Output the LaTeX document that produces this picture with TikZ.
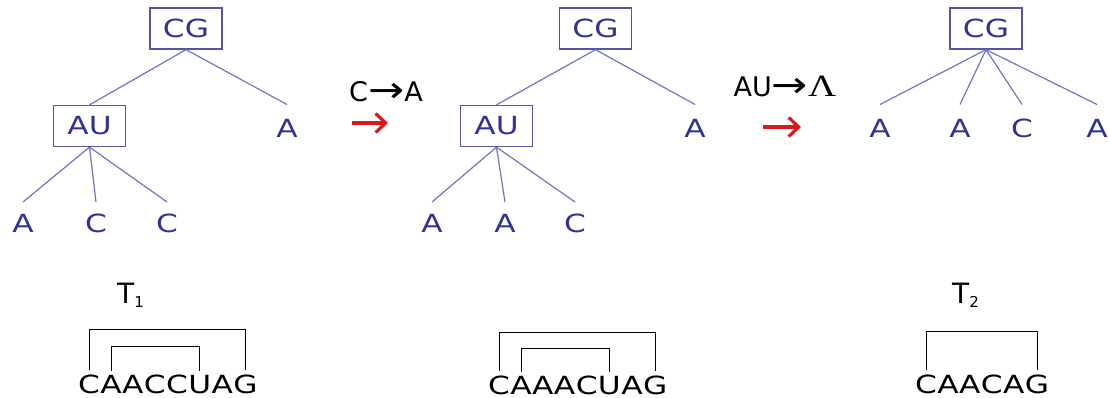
\documentclass[tikz,border=0pt]{standalone}
\usepackage{fontspec}
\setmainfont{DejaVu Sans}[FakeStretch=1.25]
\newfontfamily\lblfont{DejaVu Sans}
\newfontfamily\lamfont{Liberation Serif}[FakeStretch=1.25]
\usepackage{graphicx}
\usetikzlibrary{arrows.meta}
\definecolor{treeblue}{RGB}{50,50,150}
\definecolor{boxblue}{RGB}{85,85,160}
\definecolor{edgeblue}{RGB}{115,115,195}
\definecolor{arrred}{RGB}{215,25,25}
\newcommand{\lbarrow}{\raisebox{-0.5pt}{\scalebox{1.6}[1.35]{→}}}
\begin{document}
\begin{tikzpicture}[x=1pt,y=-1pt,
  treetext/.style={font=\fontsize{25}{27}\selectfont, text=treeblue, inner sep=0pt, text height=18pt, text depth=0pt},
  pairbox/.style={treetext, draw=boxblue, line width=1.3pt, minimum width=72pt, minimum height=41pt},
  leaf/.style={treetext, outer ysep=15pt},
  edge/.style={draw=edgeblue, line width=1.2pt},
  seq/.style={font=\fontsize{25}{27}\selectfont, text=black, inner sep=0pt, anchor=base west},
  bracket/.style={draw=black, line width=1.1pt},
  lbl/.style={font=\lblfont\fontsize{27}{29}\selectfont, text=black, inner sep=0pt},
  redarrow/.style={draw=arrred, line width=3.2pt, -{Straight Barb[length=10pt,width=19pt,line width=3.2pt]}},
  tlabel/.style={font=\lblfont\fontsize{28}{29}\selectfont, text=black, inner sep=0pt, anchor=base west}
]
\useasboundingbox (0,0) rectangle (1109,398);

% ---------- Tree 1 ----------
\node[pairbox] (t1cg) at (186,28.5) {CG};
\node[pairbox] (t1au) at (89.5,126) {AU};
\node[leaf] (t1a)  at (287,128.5) {A};
\node[leaf, outer ysep=13pt] (t1l1) at (23,224) {A};
\node[leaf, outer ysep=13pt] (t1l2) at (96,224) {C};
\node[leaf, outer ysep=13pt] (t1l3) at (167,224) {C};
\draw[edge] (t1cg.south) -- (t1au.north);
\draw[edge] (t1cg.south) -- (t1a.north);
\draw[edge] (t1au.south) -- (t1l1.north);
\draw[edge] (t1au.south) -- (t1l2.north);
\draw[edge] (t1au.south) -- (t1l3.north);

% ---------- arrow 1 ----------
\node[lbl] (lab1) at (386,92) {C\lbarrow A};
\coordinate (r1s) at (352,123);
\coordinate (r1e) at (388,123);
\draw[redarrow] (r1s) -- (r1e);

% ---------- Tree 2 ----------
\node[pairbox] (t2cg) at (595.5,28.5) {CG};
\node[pairbox] (t2au) at (496.5,126) {AU};
\node[leaf] (t2a)  at (695,128.5) {A};
\node[leaf, outer ysep=13pt] (t2l1) at (432,224) {A};
\node[leaf, outer ysep=13pt] (t2l2) at (505,224) {A};
\node[leaf, outer ysep=13pt] (t2l3) at (575,224) {C};
\draw[edge] (t2cg.south) -- (t2au.north);
\draw[edge] (t2cg.south) -- (t2a.north);
\draw[edge] (t2au.south) -- (t2l1.north);
\draw[edge] (t2au.south) -- (t2l2.north);
\draw[edge] (t2au.south) -- (t2l3.north);

% ---------- arrow 2 ----------
\node[lbl] (lab2) at (785,87) {AU\lbarrow{\lamfont\fontsize{31}{31}\selectfont Λ}};
\coordinate (r2s) at (763,127);
\coordinate (r2e) at (801,127);
\draw[redarrow] (r2s) -- (r2e);

% ---------- Tree 3 ----------
\node[pairbox] (t3cg) at (986,28.5) {CG};
\node[leaf] (t3l1) at (880,128.5) {A};
\node[leaf] (t3l2) at (960,128.5) {A};
\node[leaf] (t3l3) at (1022,128.5) {C};
\node[leaf] (t3l4) at (1097,128.5) {A};
\draw[edge] (t3cg.south) -- (t3l1.north);
\draw[edge] (t3cg.south) -- (t3l2.north);
\draw[edge] (t3cg.south) -- (t3l3.north);
\draw[edge] (t3cg.south) -- (t3l4.north);

% ---------- T labels ----------
\node[tlabel] (T1) at (117,303) {T\raisebox{-5pt}{\fontsize{15}{15}\selectfont 1}};
\node[tlabel] (T2) at (952,303) {T\raisebox{-5pt}{\fontsize{15}{15}\selectfont 2}};

% ---------- sequence 1 ----------
\node[seq] (a1) at (78,393) {C};
\node[seq] (a2) at (a1.base east) {A};
\node[seq] (a3) at (a2.base east) {A};
\node[seq] (a4) at (a3.base east) {C};
\node[seq] (a5) at (a4.base east) {C};
\node[seq] (a6) at (a5.base east) {U};
\node[seq] (a7) at (a6.base east) {A};
\node[seq] (a8) at (a7.base east) {G};
\draw[bracket] ([yshift=4pt]a1.north) |- ([yshift=45pt]a8.north) -- ([yshift=4pt]a8.north);
\draw[bracket] ([yshift=4pt]a2.north) |- ([yshift=28pt]a6.north) -- ([yshift=4pt]a6.north);

% ---------- sequence 2 ----------
\node[seq] (b1) at (488,394) {C};
\node[seq] (b2) at (b1.base east) {A};
\node[seq] (b3) at (b2.base east) {A};
\node[seq] (b4) at (b3.base east) {A};
\node[seq] (b5) at (b4.base east) {C};
\node[seq] (b6) at (b5.base east) {U};
\node[seq] (b7) at (b6.base east) {A};
\node[seq] (b8) at (b7.base east) {G};
\draw[bracket] ([yshift=4pt]b1.north) |- ([yshift=43pt]b8.north) -- ([yshift=4pt]b8.north);
\draw[bracket] ([yshift=4pt]b2.north) |- ([yshift=27pt]b6.north) -- ([yshift=4pt]b6.north);

% ---------- sequence 3 ----------
\node[seq] (c1) at (915,393) {C};
\node[seq] (c2) at (c1.base east) {A};
\node[seq] (c3) at (c2.base east) {A};
\node[seq] (c4) at (c3.base east) {C};
\node[seq] (c5) at (c4.base east) {A};
\node[seq] (c6) at (c5.base east) {G};
\draw[bracket] ([yshift=4pt]c1.north) |- ([yshift=43pt]c6.north) -- ([yshift=4pt]c6.north);
\end{tikzpicture}
\end{document}
